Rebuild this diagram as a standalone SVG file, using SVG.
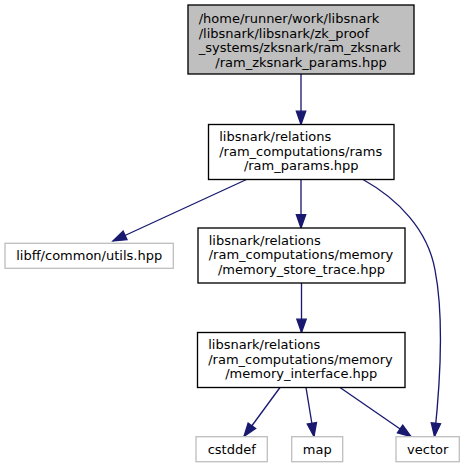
<svg xmlns="http://www.w3.org/2000/svg" width="465" height="468" viewBox="0 0 465 468">
<style>
text{font-family:"DejaVu Sans",sans-serif;font-size:13px;fill:#000}
.m{text-anchor:middle}
.s{text-anchor:start}
.nd{fill:#fff;stroke:#000;stroke-width:1.33}
.top{fill:#bfbfbf;stroke:#000;stroke-width:1.33}
.ext{fill:#fff;stroke:#bfbfbf;stroke-width:1.33}
.e{fill:none;stroke:#191970;stroke-width:1.33;marker-end:url(#ah)}
</style>
<defs>
<marker id="ah" markerUnits="userSpaceOnUse" markerWidth="16" markerHeight="12" refX="13.3" refY="4.67" orient="auto" overflow="visible">
<path d="M0,0 L13.3,4.67 L0,9.33 Z" fill="#191970" stroke="#191970" stroke-width="1.33"/>
</marker>
</defs>
<rect width="465" height="468" fill="#fff"/>
<g id="edges">
<path class="e" d="M301,74 L301,124.5"/>
<path class="e" d="M246.5,179.5 L113,241"/>
<path class="e" d="M301,179.5 L301,228"/>
<path class="e" d="M363,179.5 C398,199 428,230 435,270 C444,316 440,385 434.5,436.5"/>
<path class="e" d="M301.5,283 L301.5,332.5"/>
<path class="e" d="M280,387.5 L244,436.5"/>
<path class="e" d="M306,387.5 L314,436.5"/>
<path class="e" d="M340,387.5 L411,436.5"/>
</g>
<g id="node_ram_zksnark_params">
<rect class="top" x="188" y="5" width="226" height="69"/>
<text class="s" x="198.7" y="23">/home/runner/work/libsnark</text>
<text class="s" x="198.7" y="37.7">/libsnark/libsnark/zk_proof</text>
<text class="s" x="198.7" y="52.3">_systems/zksnark/ram_zksnark</text>
<text class="m" x="301" y="67">/ram_zksnark_params.hpp</text>
</g>
<g id="node_ram_params">
<rect class="nd" x="208.5" y="124.5" width="185.5" height="55"/>
<text class="s" x="219.2" y="141">libsnark/relations</text>
<text class="s" x="219.2" y="155.7">/ram_computations/rams</text>
<text class="m" x="301.25" y="170.3">/ram_params.hpp</text>
</g>
<g id="node_utils">
<rect class="ext" x="5" y="243.3" width="168.3" height="25"/>
<text class="m" x="89.2" y="260">libff/common/utils.hpp</text>
</g>
<g id="node_memory_store_trace">
<rect class="nd" x="198" y="228" width="207" height="55"/>
<text class="s" x="208.7" y="244.5">libsnark/relations</text>
<text class="s" x="208.7" y="259.2">/ram_computations/memory</text>
<text class="m" x="301.5" y="273.8">/memory_store_trace.hpp</text>
</g>
<g id="node_memory_interface">
<rect class="nd" x="197.5" y="332.5" width="207.5" height="55"/>
<text class="s" x="208.2" y="349">libsnark/relations</text>
<text class="s" x="208.2" y="363.7">/ram_computations/memory</text>
<text class="m" x="301.25" y="378.3">/memory_interface.hpp</text>
</g>
<g id="node_cstddef">
<rect class="ext" x="196" y="436.7" width="71.3" height="25"/>
<text class="m" x="231.7" y="453.5">cstddef</text>
</g>
<g id="node_map">
<rect class="ext" x="291.7" y="436.7" width="51" height="25"/>
<text class="m" x="317.2" y="453.5">map</text>
</g>
<g id="node_vector">
<rect class="ext" x="396" y="436.7" width="63.3" height="25"/>
<text class="m" x="427.7" y="453.5">vector</text>
</g>
</svg>
